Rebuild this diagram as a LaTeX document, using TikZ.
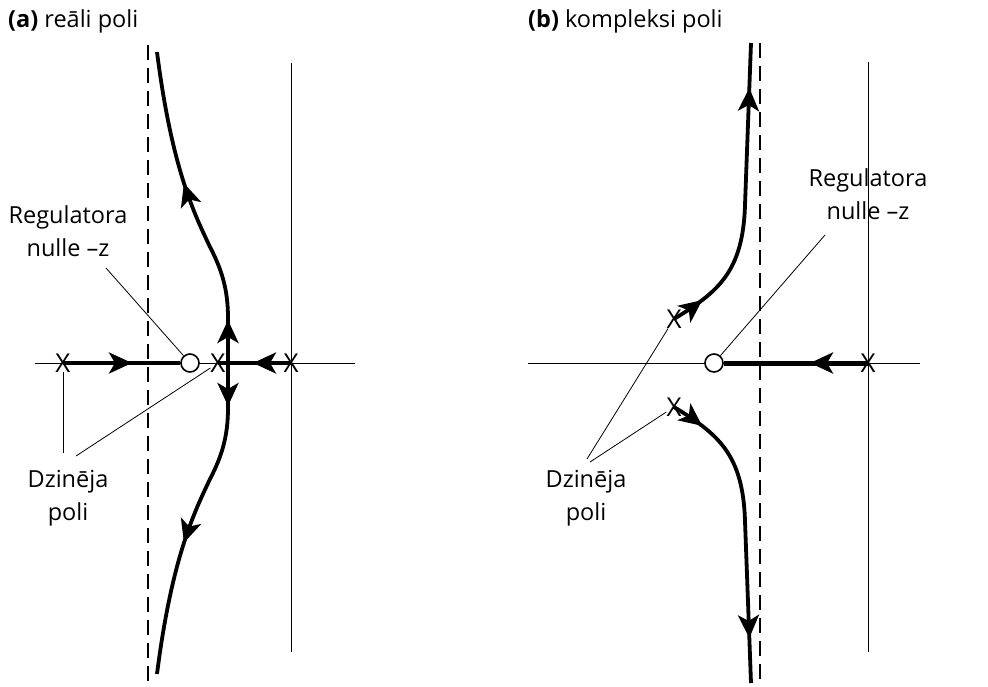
\documentclass[tikz,border=0pt]{standalone}
\usepackage{fontspec}
\setmainfont{Open Sans}
\usetikzlibrary{arrows.meta, decorations.markings}
\tikzstyle{axis} = [line width=1pt]
\tikzstyle{asymptote} = [line width=1.5pt, dash pattern=on 15pt off 8pt]
\tikzstyle{locus} = [line width=3.8pt]
\tikzstyle{leader} = [line width=0.8pt]
\tikzstyle{pole} = [inner sep=0pt, font=\fontsize{26}{26}\selectfont]
\tikzstyle{zero} = [circle, draw, line width=1.6pt, fill=white, minimum size=18pt, inner sep=0pt]
\tikzstyle{caption} = [align=center, inner sep=0pt, anchor=north, font=\fontsize{23.5}{33}\selectfont]
\tikzstyle{title} = [inner sep=0pt, anchor=base west, font=\fontsize{23.5}{28}\selectfont]
\tikzset{
  flowtip/.tip={Stealth[length=23pt, width=21pt, inset=6pt]},
  arrowat/.style={postaction={decorate, decoration={markings, mark=at position #1 with {\arrow{flowtip}}}}}
}

\begin{document}
\begin{tikzpicture}[x=1pt, y=-1pt]
\useasboundingbox (0,0) rectangle (988,686);

% titles
\node[title] (ta) at (8,27) {\textbf{(a)} reāli poli};
\node[title] (tb) at (528,27) {\textbf{(b)} kompleksi poli};

% (a) axes
\coordinate (ra1) at (35,363);   \coordinate (ra2) at (355,363);
\coordinate (ia1) at (291,63);   \coordinate (ia2) at (291,652);
\coordinate (da1) at (148,45);   \coordinate (da2) at (148,686);
\draw[axis] (ra1) -- (ra2);
\draw[axis] (ia1) -- (ia2);
\draw[asymptote] (da1) -- (da2);

% (b) axes
\coordinate (rb1) at (528,363);  \coordinate (rb2) at (920,363);
\coordinate (ib1) at (868,62);   \coordinate (ib2) at (868,652);
\coordinate (db1) at (760,43);   \coordinate (db2) at (760,686);
\draw[axis] (rb1) -- (rb2);
\draw[axis] (ib1) -- (ib2);
\draw[asymptote] (db1) -- (db2);

% (a) poles and zero
\node[pole] (p1) at (63,363) {X};
\node[pole] (p2) at (218,363) {X};
\node[pole] (p3) at (291,363) {X};
\node[zero] (z1) at (190,363) {};
\coordinate (brk) at (228,363);
\coordinate (up1) at (157,52);
\coordinate (dn1) at (157,674);

% (a) loci
\draw[locus, arrowat=69pt] (p1.center) -- (z1);
\draw[locus, arrowat=38pt] (p3.center) -- (brk);
\draw[locus] (p2.center) -- (brk);
\draw[locus, arrowat=43pt, arrowat=188pt] (brk) -- (228,318)
  .. controls (228,290) and (222,270) .. (210,247)
  .. controls (195,215) and (172,170) .. (up1);
\draw[locus, arrowat=43pt, arrowat=188pt] (brk) -- (228,408)
  .. controls (228,436) and (222,456) .. (210,479)
  .. controls (195,511) and (172,556) .. (dn1);

% (b) poles and zero
\node[pole] (p4) at (868,363) {X};
\node[pole] (p5) at (674,319) {X};
\node[pole] (p6) at (674,407) {X};
\node[zero] (z2) at (714,363) {};
\coordinate (up2) at (751,43);
\coordinate (dn2) at (751,683);

% (b) loci
\draw[locus, line width=5pt, arrowat=58pt] (p4.center) -- (z2);
\draw[locus, arrowat=34pt, arrowat=-45pt] (p5.center)
  .. controls (718,292) and (743,272) .. (745,205) -- (up2);
\draw[locus, arrowat=34pt, arrowat=-45pt] (p6.center)
  .. controls (718,434) and (743,454) .. (745,521) -- (dn2);

% (a) labels
\node[caption] (lz1) at (68,205) {Regulatora\\nulle –z};
\coordinate (lz1tip) at (106,268);
\draw[leader] (lz1tip) -- (z1);
\node[caption] (lp1) at (68,470) {Dzinēja\\poli};
\coordinate (lp1a) at (63,453);
\coordinate (lp1b) at (76,456);
\draw[leader] (lp1a) -- (p1);
\draw[leader] (lp1b) -- (p2);

% (b) labels
\node[caption] (lz2) at (868,168) {Regulatora\\nulle –z};
\coordinate (lz2tip) at (825,235);
\draw[leader] (lz2tip) -- (z2);
\node[caption] (lp2) at (586,470) {Dzinēja\\poli};
\coordinate (lp2a) at (587,459);
\coordinate (lp2b) at (590,462);
\draw[leader] (lp2a) -- (p5);
\draw[leader] (lp2b) -- (p6);
\end{tikzpicture}
\end{document}
